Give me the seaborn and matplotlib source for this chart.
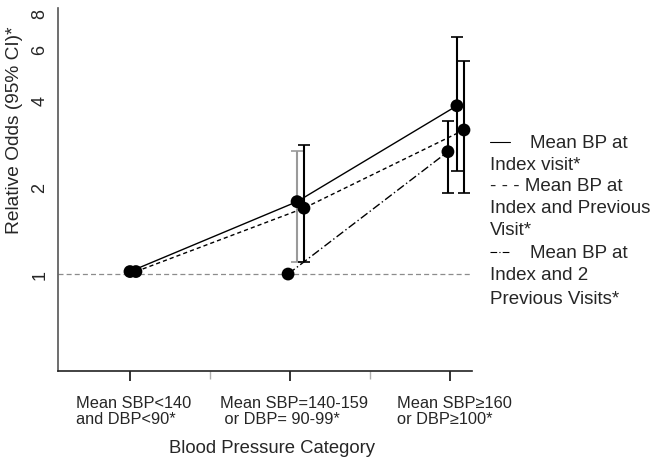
import numpy as np
import pandas as pd
import seaborn as sns
import matplotlib.pyplot as plt
import matplotlib.transforms as mtransforms
from matplotlib.lines import Line2D
from matplotlib.ticker import FixedLocator, NullFormatter

# data (relative odds with 95% CI)
categories = ["Mean SBP<140\nand DBP<90*",
              "Mean SBP=140-159\n or DBP= 90-99*",
              "Mean SBP\u2265160\nor DBP\u2265100*"]
series = ["Index visit", "Index and Previous Visit", "Index and 2 Previous Visits"]
odds_index = [1.02, 1.78, 3.82]
lo_index = [np.nan, 1.10, 2.28]
hi_index = [np.nan, 2.67, 6.59]
odds_prev1 = [1.02, 1.69, 3.15]
lo_prev1 = [np.nan, 1.10, 1.90]
hi_prev1 = [np.nan, 2.80, 5.45]
odds_prev2 = [np.nan, 1.00, 2.65]
lo_prev2 = [np.nan, np.nan, 1.90]
hi_prev2 = [np.nan, np.nan, 3.39]
ytick_vals = [1, 2, 4, 6, 8]

# small horizontal dodge per series
dodge = {series[0]: [0.003, 0.044, 0.04],
         series[1]: [0.04, 0.087, 0.084],
         series[2]: [0.0, -0.012, -0.016]}
dash_map = {series[0]: "", series[1]: (3, 2.2), series[2]: (6, 2, 1, 2)}
bar_col = {series[0]: ["black", "#9a9a9a", "black"],
           series[1]: ["black", "black", "black"],
           series[2]: ["black", "black", "black"]}

rows = []
for s, o, lo, hi in zip(series, [odds_index, odds_prev1, odds_prev2],
                        [lo_index, lo_prev1, lo_prev2], [hi_index, hi_prev1, hi_prev2]):
    for i in range(len(categories)):
        rows.append({"series": s, "cat": i, "x": i + dodge[s][i],
                     "odds": o[i], "lo": lo[i], "hi": hi[i]})
df = pd.DataFrame(rows)

sns.set_style("white")
plt.rcParams["font.family"] = ["Liberation Sans", "DejaVu Sans"]

fig = plt.figure(figsize=(6.52, 4.6), dpi=100)
ax = fig.add_axes([58 / 652, 88 / 460, 414 / 652, 363 / 460])

ax.axhline(1, color="#8c8c8c", lw=0.9, dashes=(4, 2.5), zorder=1)

sns.lineplot(data=df.dropna(subset=["odds"]), x="x", y="odds", style="series",
             dashes=dash_map, color="black", lw=1.0, legend=False, ax=ax,
             estimator=None, sort=False, zorder=2)

for s in series:
    d = df[df["series"] == s]
    for _, r in d.iterrows():
        if np.isnan(r["lo"]):
            continue
        c = bar_col[s][int(r["cat"])]
        ax.errorbar(r["x"], r["odds"],
                    yerr=[[r["odds"] - r["lo"]], [r["hi"] - r["odds"]]],
                    fmt="none", ecolor=c, elinewidth=1.5, capsize=4,
                    capthick=1.2, zorder=3)

sns.scatterplot(data=df.dropna(subset=["odds"]), x="x", y="odds", color="black",
                s=85, edgecolor="none", legend=False, ax=ax, zorder=4)

ax.set_yscale("log")
ax.set_ylim(0.462, 8.32)
ax.set_xlim(-0.4455, 2.134)
ax.yaxis.set_major_locator(FixedLocator(ytick_vals))
ax.yaxis.set_minor_locator(FixedLocator([]))
ax.set_yticklabels([str(v) for v in ytick_vals], rotation=90, va="center",
                   fontsize=13)
ax.set_xticks(range(len(categories)))
ax.set_xticklabels(categories, fontsize=11.8, multialignment="left",
                   linespacing=1.05)
ax.set_xticks([0.5, 1.5], minor=True)
ax.xaxis.set_minor_formatter(NullFormatter())

ax.tick_params(axis="y", direction="in", length=5, width=1, color="#444444", pad=7)
ax.tick_params(axis="x", which="major", direction="out", length=7, width=1.3,
               color="#222222", pad=10.5, bottom=True)
ax.tick_params(axis="x", which="minor", direction="out", length=6, width=1,
               color="#b0b0b0", bottom=True)

# nudge the category labels a little to the right
shift = mtransforms.ScaledTranslation(4 / 100, 0, fig.dpi_scale_trans)
for lab in ax.get_xticklabels():
    lab.set_transform(lab.get_transform() + shift)

for side in ["top", "right"]:
    ax.spines[side].set_visible(False)
ax.spines["left"].set_color("#555555")
ax.spines["left"].set_linewidth(1.2)
ax.spines["bottom"].set_color("#222222")
ax.spines["bottom"].set_linewidth(1.2)

ax.set_xlabel("")
ax.set_ylabel("")
fig.text(15 / 652, 1 - 130 / 460, "Relative Odds (95% CI)*", rotation=90,
         ha="center", va="center", fontsize=13.8)
fig.text(272 / 652, 1 - 449 / 460, "Blood Pressure Category",
         ha="center", va="center", fontsize=13.3)

# legend drawn as text beside the plot
leg_lines = [("", "   Mean BP at", 143), (None, "Index visit*", 165),
             ((3, 2.2), "- - - Mean BP at", 187), (None, "Index and Previous", 209),
             (None, "Visit*", 231), ((6, 2, 1, 2), "   Mean BP at", 253),
             (None, "Index and 2", 276), (None, "Previous Visits*", 299)]
for dash, txt, ypix in leg_lines:
    yf = 1 - ypix / 460
    if dash is not None and txt.startswith(" "):
        ln = Line2D([490 / 652, 510 / 652], [yf, yf], transform=fig.transFigure,
                    color="black", lw=0.8)
        if dash:
            ln.set_dashes(dash)
        fig.add_artist(ln)
        fig.text(530 / 652, yf, txt.strip(), ha="left", va="center", fontsize=13.5)
    else:
        fig.text(490 / 652, yf, txt, ha="left", va="center", fontsize=13.5)

fig.savefig("out.png", dpi=100)
